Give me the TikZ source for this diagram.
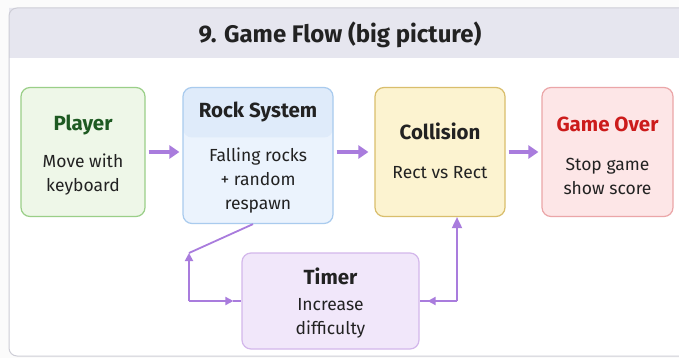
\documentclass[tikz,border=0pt]{standalone}
\usepackage{fontspec}
\setmainfont{Fira Sans}
\usetikzlibrary{arrows.meta}
\definecolor{pborder}{HTML}{CDCDD6}
\definecolor{pband}{HTML}{E6E6EF}
\definecolor{flow}{HTML}{A97CDD}
\definecolor{gfill}{HTML}{EEF7E8}
\definecolor{gline}{HTML}{9ACF88}
\definecolor{gtext}{HTML}{1E5A22}
\definecolor{bfill}{HTML}{EBF3FD}
\definecolor{bhead}{HTML}{DFEBFA}
\definecolor{bline}{HTML}{A9CBEE}
\definecolor{yfill}{HTML}{FCF3D0}
\definecolor{yline}{HTML}{D9BE6C}
\definecolor{rfill}{HTML}{FDE6E7}
\definecolor{rline}{HTML}{EBA6A8}
\definecolor{rtext}{HTML}{CC1B1B}
\definecolor{pfill}{HTML}{F1E7FA}
\definecolor{pline}{HTML}{D3B7EB}
\definecolor{ink}{HTML}{222222}
\begin{document}
\begin{tikzpicture}[x=1pt,y=-1pt,
  box/.style={draw, line width=1.2pt, rounded corners=9pt, inner sep=0pt},
  ttl/.style={font=\bfseries\fontsize{20.5}{24}\selectfont, text=ink},
  body/.style={font=\fontsize{17.5}{24}\selectfont, text=ink, align=center},
  flowarrow/.style={draw=flow, line width=3.2pt, -{Triangle[length=10pt,width=13pt]}},
  link/.style={draw=flow, line width=1.8pt},
  linkarrow/.style={draw=flow, line width=1.8pt, -{Triangle[length=8pt,width=8pt]}}]
\useasboundingbox (0,0) rectangle (679,358);
\fill[white!97!gray] (0,0) rectangle (679,358);
% panel
\fill[white] (9,8) [rounded corners=8pt] -- (9,356) -- (690,356) -- (690,8) [sharp corners] -- cycle;
\begin{scope}
\clip (9,8) [rounded corners=8pt] -- (9,356) -- (690,356) -- (690,8) [sharp corners] -- cycle;
\fill[pband] (0,0) rectangle (690,58);
\end{scope}
\draw[pborder, line width=1pt, rounded corners=8pt] (690,8) -- (9,8) -- (9,356) -- (690,356);
\node[font=\bfseries\fontsize{24}{28}\selectfont, text=ink] (title) at (340,35) {9. Game Flow (big picture)};
% boxes
\node[box, draw=gline, fill=gfill, minimum width=124pt, minimum height=129pt] (player) at (83,152) {};
\node[box, draw=bline, fill=bfill, minimum width=150pt, minimum height=136pt,
  path picture={\fill[bhead] (path picture bounding box.north west) rectangle ([yshift=-50pt]path picture bounding box.north east);}] (rock) at (258,155.5) {};
\node[box, draw=yline, fill=yfill, minimum width=130pt, minimum height=129pt] (coll) at (440,152) {};
\node[box, draw=rline, fill=rfill, minimum width=131pt, minimum height=129pt] (over) at (607.5,152) {};
\node[box, draw=pline, fill=pfill, minimum width=177pt, minimum height=96pt] (timer) at (330.5,301) {};
% texts
\node[ttl, text=gtext] (playerT) at (83,125) {Player};
\node[body] (playerB) at (83,175) {Move with\\keyboard};
\node[ttl] (rockT) at (258,112) {Rock System};
\node[body] (rockB) at (258,181) {Falling rocks\\+ random\\respawn};
\node[ttl] (collT) at (440,131) {Collision};
\node[body] (collB) at (440,173) {Rect vs Rect};
\node[ttl, text=rtext] (overT) at (607.5,124) {Game Over};
\node[body] (overB) at (607.5,176) {Stop game\\show score};
\node[ttl] (timerT) at (330.5,276) {Timer};
\node[body] (timerB) at (330.5,318) {Increase\\difficulty};
% flow arrows
\draw[flowarrow, shorten <=3pt, shorten >=3pt] (player.east) -- (rock.west |- player.east);
\draw[flowarrow, shorten <=3pt, shorten >=6pt] (rock.east |- coll.west) -- (coll.west);
\draw[flowarrow, shorten <=3pt, shorten >=3pt] (coll.east) -- (over.west);
% timer links
\coordinate (lcorner) at (189,301);
\coordinate (ltop) at (189,253);
\coordinate (rcorner) at (457,301);
\draw[linkarrow] (lcorner) -- ([xshift=-8pt]timer.west);
\draw[link] ([xshift=-8pt]timer.west) -- (timer.west);
\draw[linkarrow] (lcorner) -- (ltop);
\draw[link] (ltop) -- ([xshift=-5pt]rock.south);
\draw[linkarrow] (rcorner) -- ([xshift=8pt]timer.east);
\draw[link] (rcorner) -- (timer.east);
\draw[linkarrow, -{Triangle[length=11pt,width=10pt]}] (rcorner) -- (rcorner |- coll.south);
\end{tikzpicture}
\end{document}
